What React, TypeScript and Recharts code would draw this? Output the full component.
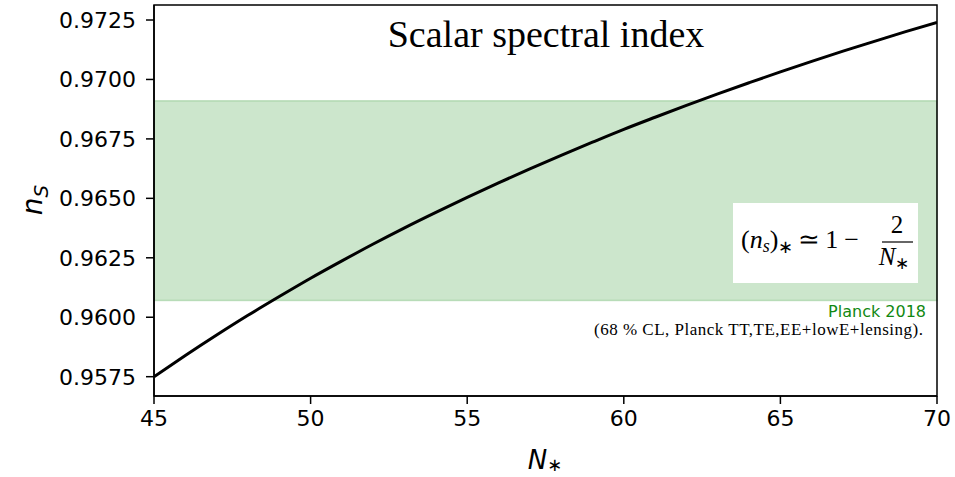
import React from "react";
import {
  LineChart,
  Line,
  XAxis,
  YAxis,
  ReferenceArea,
} from "recharts";

// e-folds and the spectral index
const nStar = [45, 46, 47, 48, 49, 50, 51, 52, 53, 54, 55, 56, 57, 58, 59, 60, 61, 62, 63, 64, 65, 66, 67, 68, 69, 70];
const nsValues = [
  0.9575, 0.95839, 0.95925, 0.96008, 0.96087, 0.96164, 0.96237, 0.96308, 0.96376, 0.96441, 0.96504, 0.96565,
  0.96624, 0.96681, 0.96736, 0.9679, 0.96841, 0.96891, 0.96939, 0.96986, 0.97032, 0.97076, 0.97119, 0.9716,
  0.97201, 0.9724,
];
const xTicks = [45, 50, 55, 60, 65, 70];
const yTicks = [0.9575, 0.96, 0.9625, 0.965, 0.9675, 0.97, 0.9725];
const planckBand = [0.9607, 0.9691];
const yDomain = [0.956688, 0.973131];

const data = nStar.map((n, i) => ({ n, ns: nsValues[i] }));

const SANS = "DejaVu Sans";
const SERIF = "Liberation Serif";

export default function App() {
  return (
    <div style={{ position: "absolute", left: 0, top: 0, width: 955, height: 477, background: "#fff" }}>
      <LineChart width={955} height={477} data={data} margin={{ top: 5, right: 18, bottom: 0, left: 0 }}>
        <XAxis
          dataKey="n"
          type="number"
          domain={[45, 70]}
          ticks={xTicks}
          height={81}
          tickSize={8}
          tickMargin={6}
          stroke="#000"
          strokeWidth={1.5}
          tick={{ fill: "#000", fontSize: 22, fontFamily: SANS }}
          allowDataOverflow
        />
        <YAxis
          type="number"
          domain={yDomain}
          ticks={yTicks}
          width={154}
          tickSize={8}
          tickMargin={10}
          stroke="#000"
          strokeWidth={1.5}
          tickFormatter={(v: number) => v.toFixed(4)}
          tick={{ fill: "#000", fontSize: 22, fontFamily: SANS }}
          allowDataOverflow
        />
        <ReferenceArea
          x1={45}
          x2={70}
          y1={planckBand[0]}
          y2={planckBand[1]}
          fill="#008000"
          fillOpacity={0.2}
          stroke="#008000"
          strokeOpacity={0.2}
          strokeWidth={1.5}
          ifOverflow="visible"
        />
        <Line type="monotone" dataKey="ns" stroke="#000" strokeWidth={3} dot={false} isAnimationActive={false} />
        {/* axes frame */}
        <ReferenceArea
          x1={45}
          x2={70}
          y1={yDomain[0]}
          y2={yDomain[1]}
          fill="none"
          stroke="#000"
          strokeWidth={1.5}
          ifOverflow="visible"
        />
      </LineChart>
      <svg width={955} height={477} style={{ position: "absolute", left: 0, top: 0, pointerEvents: "none" }}>
        <text x={546} y={47} textAnchor="middle" fontFamily={SERIF} fontSize={38} fill="#000">
          Scalar spectral index
        </text>
        <rect x={733} y={203} width={185} height={80} fill="#fff" />
        <text x={741} y={248} fontFamily={SERIF} fontSize={26} fill="#000">
          <tspan>(</tspan>
          <tspan fontStyle="italic">n</tspan>
          <tspan fontStyle="italic" fontSize={18} dy={4}>s</tspan>
          <tspan dy={-4}>)</tspan>
          <tspan fontSize={18} dy={5}>∗</tspan>
          <tspan dy={-5} dx={5}>≃</tspan>
          <tspan dx={5}>1</tspan>
          <tspan dx={6}>−</tspan>
        </text>
        <text x={897} y={233} textAnchor="middle" fontFamily={SERIF} fontSize={25} fill="#000">2</text>
        <line x1={882} x2={913} y1={242} y2={242} stroke="#000" strokeWidth={1.2} />
        <text x={894} y={265} textAnchor="middle" fontFamily={SERIF} fontSize={25} fill="#000">
          <tspan fontStyle="italic">N</tspan>
          <tspan fontSize={17} dy={4}>∗</tspan>
        </text>
        <text x={926} y={317} textAnchor="end" fontFamily={SANS} fontSize={16} fill="#118811">
          Planck 2018
        </text>
        <text x={923} y={335} textAnchor="end" fontFamily={SERIF} fontSize={17} fill="#000" textLength={329} lengthAdjust="spacing">
          (68 % CL, Planck TT,TE,EE+lowE+lensing).
        </text>
        <text x={545} y={469} textAnchor="middle" fontFamily={SANS} fontSize={26} fill="#000">
          <tspan fontStyle="italic">N</tspan>
          <tspan fontSize={18} dy={2}>∗</tspan>
        </text>
        <text transform="translate(42, 200) rotate(-90)" textAnchor="middle" fontFamily={SANS} fontSize={28} fill="#000">
          <tspan fontStyle="italic">n</tspan>
          <tspan fontStyle="italic" fontSize={20} dy={6}>S</tspan>
        </text>
      </svg>
    </div>
  );
}
